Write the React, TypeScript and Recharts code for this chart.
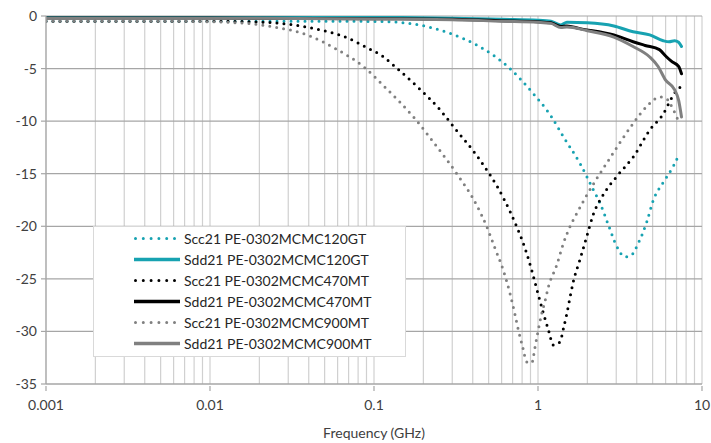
import { CartesianGrid, Legend, Line, LineChart, XAxis, YAxis } from 'recharts'

// frequency in GHz, insertion loss in dB
const scc120Freq = [0.001, 0.01, 0.05, 0.11, 0.19, 0.29, 0.44, 0.675, 0.915, 1.21, 1.43, 1.8, 2.17, 2.39, 2.69, 3.02, 3.39, 3.67, 4.09, 4.6, 5.05, 5.81, 6.68, 7.27]
const scc120Db = [-0.5, -0.5, -0.5, -0.52, -0.86, -1.65, -2.9, -5.0, -7.2, -9.6, -11.5, -14.0, -16.5, -17.8, -19.9, -21.9, -22.9, -22.8, -21.6, -19.6, -17.5, -15.8, -14.3, -13.1]

const sdd120Freq = [0.001, 0.01, 0.1, 0.3, 0.6, 1.0, 1.2, 1.38, 1.5, 2.0, 2.9, 3.8, 4.8, 5.8, 6.3, 6.8, 7.2, 7.5]
const sdd120Db = [-0.02, -0.04, -0.1, -0.22, -0.32, -0.4, -0.5, -0.85, -0.6, -0.65, -0.95, -1.5, -1.8, -2.35, -2.45, -2.35, -2.5, -2.9]

const scc470Freq = [0.001, 0.01, 0.0175, 0.0294, 0.0447, 0.0635, 0.0923, 0.114, 0.134, 0.186, 0.252, 0.312, 0.443, 0.615, 0.74, 0.834, 0.916, 1.0, 1.08, 1.16, 1.24, 1.36, 1.43, 1.5, 1.57, 1.64, 1.8, 1.98, 2.17, 2.5, 3.08, 3.81, 4.82, 5.81, 6.53, 7.17, 7.6]
const scc470Db = [-0.5, -0.5, -0.55, -0.76, -1.24, -1.87, -3.07, -3.87, -4.8, -6.8, -8.9, -10.7, -13.7, -17.3, -20.0, -22.1, -24.2, -26.4, -28.3, -29.9, -31.3, -31.0, -29.7, -28.3, -26.7, -25.3, -23.2, -21.0, -18.9, -17.0, -15.1, -13.4, -10.8, -9.3, -7.8, -6.9, -6.7]

const sdd470Freq = [0.001, 0.01, 0.1, 0.3, 0.6, 1.0, 1.2, 1.38, 1.5, 1.8, 2.9, 3.8, 4.5, 5.5, 6.0, 6.5, 7.2, 7.5]
const sdd470Db = [-0.2, -0.2, -0.25, -0.32, -0.45, -0.55, -0.65, -1.0, -0.95, -1.2, -1.8, -2.45, -2.8, -3.2, -3.8, -4.3, -4.8, -5.5]

const scc900Freq = [0.001, 0.006, 0.0126, 0.0238, 0.0407, 0.0593, 0.086, 0.119, 0.174, 0.241, 0.32, 0.423, 0.486, 0.547, 0.615, 0.675, 0.724, 0.76, 0.807, 0.854, 0.916, 0.959, 1.0, 1.05, 1.1, 1.16, 1.3, 1.43, 1.57, 1.72, 1.94, 2.75, 3.81, 4.6, 5.55, 6.0, 6.68, 7.27]
const scc900Db = [-0.5, -0.5, -0.6, -1.0, -1.9, -3.17, -4.8, -6.9, -9.6, -12.4, -15.0, -18.0, -20.0, -22.1, -24.2, -26.4, -28.4, -29.9, -31.5, -32.9, -33.0, -31.5, -30.0, -28.4, -27.2, -25.7, -23.7, -21.6, -20.0, -18.8, -17.3, -13.5, -10.2, -8.6, -7.7, -7.8, -8.9, -10.2]

const sdd900Freq = [0.001, 0.01, 0.1, 0.3, 0.6, 1.0, 1.2, 1.38, 1.5, 2.0, 2.9, 3.8, 4.8, 5.4, 6.0, 6.8, 7.2, 7.5]
const sdd900Db = [-0.22, -0.22, -0.28, -0.35, -0.5, -0.6, -0.7, -1.1, -1.05, -1.4, -2.0, -2.9, -3.9, -4.8, -6.1, -7.0, -8.0, -9.6]

const xTicks = [0.001, 0.01, 0.1, 1, 10]
const minorTicks = [0.001, 0.01, 0.1, 1].flatMap((d) => [1, 2, 3, 4, 5, 6, 7, 8, 9].map((m) => m * d)).concat([10])
const yTicks = [-35, -30, -25, -20, -15, -10, -5, 0]

const toPoints = (freq: number[], db: number[]) => freq.map((f, i) => ({ f, db: db[i] }))

const series = [
  { name: 'Scc21 PE-0302MCMC120GT', data: toPoints(scc120Freq, scc120Db), color: '#17a2b1', dotted: true },
  { name: 'Sdd21 PE-0302MCMC120GT', data: toPoints(sdd120Freq, sdd120Db), color: '#17a2b1', dotted: false },
  { name: 'Scc21 PE-0302MCMC470MT', data: toPoints(scc470Freq, scc470Db), color: '#000000', dotted: true },
  { name: 'Sdd21 PE-0302MCMC470MT', data: toPoints(sdd470Freq, sdd470Db), color: '#000000', dotted: false },
  { name: 'Scc21 PE-0302MCMC900MT', data: toPoints(scc900Freq, scc900Db), color: '#808080', dotted: true },
  { name: 'Sdd21 PE-0302MCMC900MT', data: toPoints(sdd900Freq, sdd900Db), color: '#808080', dotted: false },
]

const font = 'Lato, "Open Sans", sans-serif'
const labelColor = '#404040'

// keep the series order, legend payload is sorted by recharts
function LegendBox({ payload }: { payload?: { value: string }[] }) {
  const shown = new Set((payload || []).map((p) => p.value))
  return (
    <div style={{ paddingTop: 1, fontFamily: font, fontSize: 14, color: '#262626' }}>
      {series
        .filter((s) => shown.has(s.name))
        .map((s) => (
          <div key={s.name} style={{ height: 21, display: 'flex', alignItems: 'center' }}>
            <svg width={90} height={21} style={{ flex: 'none' }}>
              <line
                x1={s.dotted ? 41.5 : 40}
                x2={86}
                y1={10.5}
                y2={10.5}
                stroke={s.color}
                strokeWidth={s.dotted ? 3 : 3.5}
                strokeDasharray={s.dotted ? '0 7.8' : undefined}
                strokeLinecap={s.dotted ? 'round' : 'butt'}
              />
            </svg>
            <span style={{ whiteSpace: 'nowrap' }}>{s.name}</span>
          </div>
        ))}
    </div>
  )
}

// the axis carries every minor tick so the grid gets them, but only decades get a mark and a label
function DecadeTick({ x, y, payload }: any) {
  const v = payload.value as number
  if (!xTicks.some((t) => Math.abs(t - v) < t * 1e-6)) return null
  return (
    <g>
      <line x1={x} x2={x} y1={y} y2={y + 5} stroke="#a6a6a6" strokeWidth={1.2} />
      <text x={x} y={y + 14} dy="0.71em" textAnchor="middle" fill={labelColor} fontSize={14} fontFamily={font}>
        {String(Number(v.toPrecision(3)))}
      </text>
    </g>
  )
}

export default function App() {
  return (
    <div style={{ position: 'absolute', left: 0, top: 0, width: 711, height: 443, background: '#fff' }}>
      <LineChart width={711} height={443} margin={{ top: 16, right: 9, bottom: 0, left: 0 }}>
        <CartesianGrid horizontal={false} stroke="#d0d0d0" strokeWidth={1.2} />
        <CartesianGrid vertical={false} stroke="#a6a6a6" strokeWidth={1.2} />
        <XAxis
          dataKey="f"
          type="number"
          scale="log"
          domain={[0.001, 10]}
          ticks={minorTicks}
          interval={0}
          allowDataOverflow
          height={59}
          stroke="#a6a6a6"
          strokeWidth={1.2}
          tickLine={false}
          tickSize={0}
          tick={<DecadeTick />}
          label={{ value: 'Frequency (GHz)', position: 'insideBottom', offset: 5, fill: labelColor, fontSize: 14, fontFamily: font }}
        />
        <YAxis
          type="number"
          domain={[-35, 0]}
          ticks={yTicks}
          allowDataOverflow
          width={46}
          stroke="#a6a6a6"
          strokeWidth={1.2}
          tickSize={5}
          tickMargin={4}
          tick={{ fill: labelColor, fontSize: 14, fontFamily: font }}
        />
        {series.map((s) => (
          <Line
            key={s.name}
            data={s.data}
            dataKey="db"
            name={s.name}
            type="monotone"
            stroke={s.color}
            strokeWidth={3}
            strokeDasharray={s.dotted ? '0 7' : undefined}
            strokeLinecap="round"
            dot={false}
            activeDot={false}
            isAnimationActive={false}
          />
        ))}
        <Legend
          layout="vertical"
          align="center"
          verticalAlign="middle"
          content={<LegendBox />}
          wrapperStyle={{
            left: 93,
            top: 226,
            width: 313,
            height: 131,
            background: '#fff',
            border: '1px solid #d9d9d9',
            boxSizing: 'border-box',
          }}
        />
      </LineChart>
    </div>
  )
}
